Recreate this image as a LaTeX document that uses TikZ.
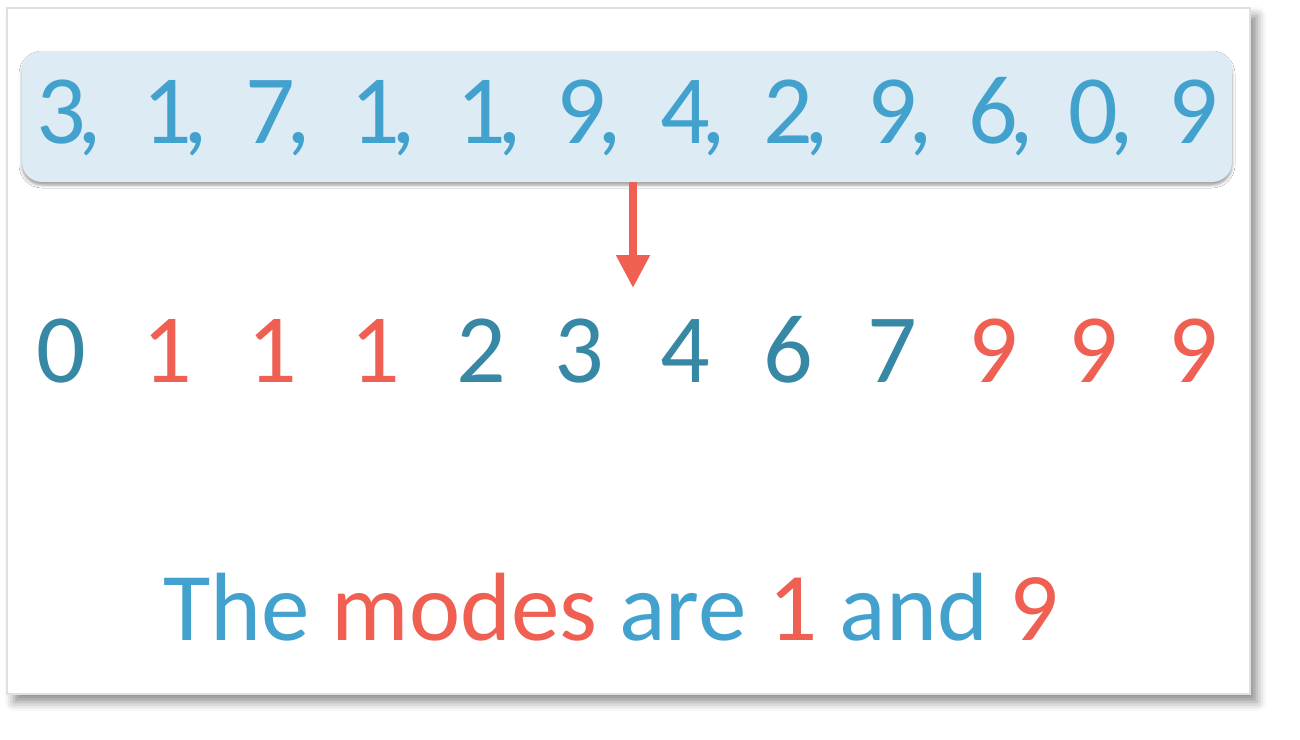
\documentclass[tikz,border=0pt]{standalone}
\usepackage{fontspec}
\setmainfont{Carlito}
\usetikzlibrary{arrows.meta,shadows.blur}
\definecolor{numblue}{HTML}{43A1CE}
\definecolor{sortteal}{HTML}{3688A5}
\definecolor{modered}{HTML}{EF5F52}
\definecolor{boxfill}{HTML}{DDEBF4}
\begin{document}
\begin{tikzpicture}[x=1pt,y=-1pt]
\tikzstyle{every node}+=[inner sep=0pt]
\tikzstyle{digit}=[font=\fontsize{98}{110}\selectfont, anchor=base]
\useasboundingbox (0,0) rectangle (1300,739);
% card
\draw [black!12, line width=1.5pt, fill=white, blur shadow={shadow xshift=7pt, shadow yshift=-8pt, shadow blur radius=9pt, shadow opacity=45}] (7,8) rectangle (1250,694);
% unsorted list
\node (list) [fill=boxfill, rounded corners=20pt, minimum width=1210pt, minimum height=131pt, blur shadow={shadow xshift=0pt, shadow yshift=-3pt, shadow blur radius=3pt, shadow opacity=40}] at (627,116.5) {};
\foreach \x/\v [count=\i] in {61/3,167/1,270/7,375/1,481/1,581/9,685/4,788/2,892/9,993/6,1093/0,1193/9}
  \node (u\i) [digit, text=numblue] at (\x,143) {\v\ifnum\i<12\rlap{\kern-8pt,}\fi};
% arrow
\coordinate (tip) at (633,288);
\draw [modered, line width=8pt, -{Triangle[width=32pt,length=33pt]}] (list.south -| tip) -- (tip);
% sorted list
\foreach \x/\v/\c [count=\i] in {61/0/sortteal,167/1/modered,272/1/modered,375/1/modered,481/2/sortteal,579/3/sortteal,685/4/sortteal,788/6/sortteal,892/7/sortteal,993/9/modered,1093/9/modered,1193/9/modered}
  \node (s\i) [digit, text=\c] at (\x,382) {\v};
% answer
\node (modes) [font=\fontsize{97}{115}\selectfont, anchor=base west] at (163,640) {\textcolor{numblue}{The} \textcolor{modered}{modes} \textcolor{numblue}{are} \textcolor{modered}{1} \textcolor{numblue}{and} \textcolor{modered}{9}};
\end{tikzpicture}
\end{document}
